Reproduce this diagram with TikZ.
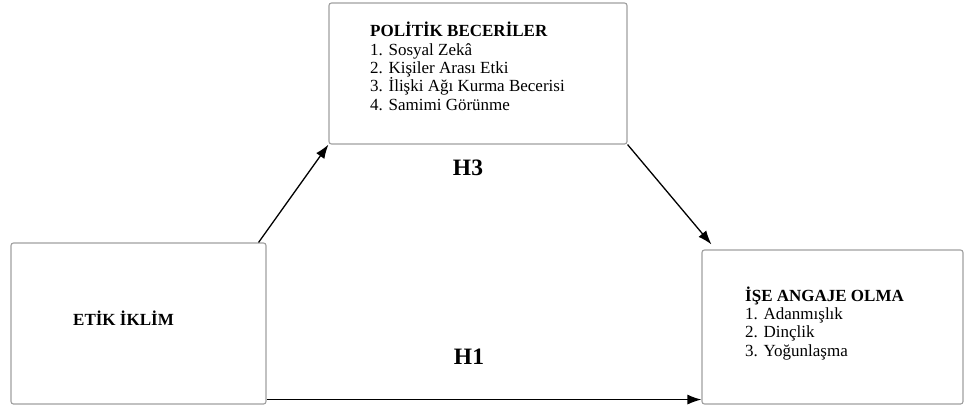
\documentclass[tikz,border=0pt]{standalone}
\usepackage{fontspec}
\setmainfont{Liberation Serif}
\usetikzlibrary{arrows.meta,positioning}

\tikzset{
  kutu/.style={draw=gray!75, line width=1.1pt, rounded corners=2.5pt, inner sep=0pt},
  yazi/.style={font=\fontsize{17}{18.3}\selectfont, align=left, inner sep=0pt, anchor=base west},
  hip/.style={font=\bfseries\fontsize{23.5}{26}\selectfont, inner sep=0pt, anchor=base},
  ok/.style={-{Latex[length=14pt,width=10pt]}, line width=1.3pt}
}

\begin{document}
\begin{tikzpicture}[x=1pt,y=-1pt]
\useasboundingbox (0,0) rectangle (964,408);

% kutular
\node[kutu, minimum width=298pt, minimum height=141pt] (pb) at (478,73.5) {};
\node[kutu, minimum width=255pt, minimum height=161pt] (ei) at (138.5,323.5) {};
\node[kutu, minimum width=261pt, minimum height=154pt] (ia) at (832.5,327) {};

% yazilar (base = son satir)
\node[yazi] (pbt) at (370,110) {\textbf{POLİTİK BECERİLER}\\1. Sosyal Zekâ\\2. Kişiler Arası Etki\\3. İlişki Ağı Kurma Becerisi\\4. Samimi Görünme};
\node[yazi] (eit) at (73,325) {\textbf{ETİK İKLİM}};
\node[yazi] (iat) at (745,356) {\textbf{İŞE ANGAJE OLMA}\\1. Adanmışlık\\2. Dinçlik\\3. Yoğunlaşma};

% hipotezler
\node[hip] (h3) at (468,175) {H3};
\node[hip] (h1) at (469,364) {H1};

% oklar
\draw[ok] ([xshift=-8pt]ei.north east) -- (pb.south west);
\draw[ok] (pb.south east) -- ([xshift=10pt,yshift=5pt]ia.north west);
\draw[ok] ([yshift=5pt]ei.south east) -- ([yshift=5pt]ei.south east -| ia.west);

\end{tikzpicture}
\end{document}
